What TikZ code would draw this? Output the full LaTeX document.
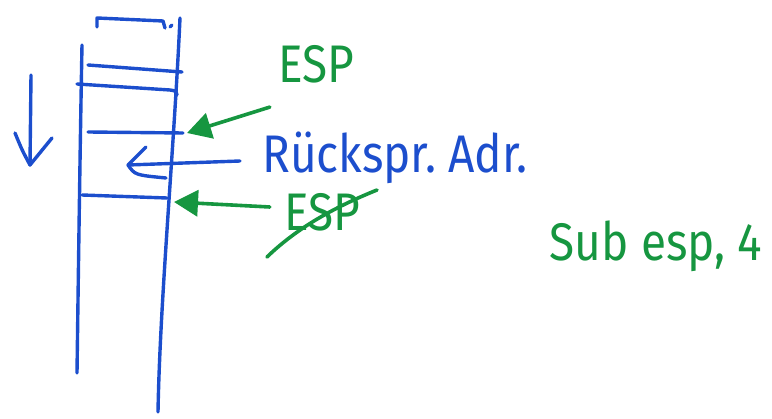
\documentclass[tikz,border=0pt]{standalone}
\usepackage{fontspec}
\setmainfont{Fira Sans}
\usetikzlibrary{arrows.meta}
\definecolor{penblue}{RGB}{28,78,205}
\definecolor{pengreen}{RGB}{22,150,64}
\tikzset{
  blueink/.style={draw=penblue, line width=3.4pt, line cap=round, line join=round},
  greenink/.style={draw=pengreen, line width=3.6pt, line cap=round, line join=round},
  greenhead/.style={-{Triangle[length=24pt,width=26pt]}},
  label/.style={inner sep=0pt, font=\fontsize{46}{46}\selectfont, yscale=1.15},
}
\begin{document}
\begin{tikzpicture}[x=1pt,y=-1pt]
\useasboundingbox (0,0) rectangle (772,419);
% stack walls
\draw[blueink] (82,45) .. controls (80,150) and (78,300) .. (77,373);
\draw[blueink] (180,18) .. controls (174,150) and (160,300) .. (158,412);
% top cap
\draw[blueink] (97,27) -- (97,18) -- (163,21) -- (165,28);
\draw[blueink] (170,27) -- (172,25);
% slots
\draw[blueink] (88,65) -- (182,72);
\draw[blueink] (77,84) -- (170,90) .. controls (176,91) .. (177,95);
\draw[blueink] (88,132) -- (183,133);
\draw[blueink] (82,195) -- (167,198);
% growth arrow
\coordinate (gtop) at (31,75);
\coordinate (gtip) at (30,165);
\draw[blueink] (gtop) -- (gtip);
\draw[blueink] (15,133) .. controls (22,150) .. (gtip) -- (52,138);
% return address label and arrow
\node[label, text=penblue, anchor=west] (ret) at (262,158) {Rückspr.\ Adr.};
\coordinate (rtip) at (128,165);
\draw[blueink] (ret.west) ++(-22,3) -- (rtip);
\draw[blueink] (146,147) -- (rtip) .. controls (135,175) .. (166,178);
% ESP labels
\node[label, text=pengreen] (esp1) at (316,64) {ESP};
\node[label, text=pengreen] (esp2) at (322,212) {ESP};
\coordinate (t1) at (187,133);
\coordinate (t2) at (174,202);
\draw[greenink, greenhead] (esp1.south west) ++(-8,24) -- (t1);
\draw[greenink, greenhead] (esp2.west) ++(-14,-5) -- (t2);
% strike through lower ESP
\draw[greenink] (267,257) .. controls (300,225) and (340,205) .. (377,190);
% instruction
\node[label, text=pengreen] (sub) at (656,246) {Sub esp, 4};
\end{tikzpicture}
\end{document}
